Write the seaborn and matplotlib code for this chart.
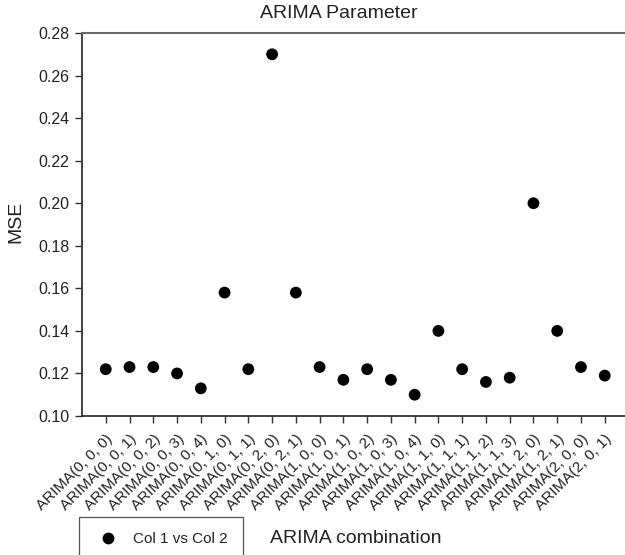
import matplotlib
matplotlib.use("Agg")
import matplotlib.pyplot as plt
import seaborn as sns
import pandas as pd

categories = ["ARIMA(0, 0, 0)", "ARIMA(0, 0, 1)", "ARIMA(0, 0, 2)", "ARIMA(0, 0, 3)",
              "ARIMA(0, 0, 4)", "ARIMA(0, 1, 0)", "ARIMA(0, 1, 1)", "ARIMA(0, 2, 0)",
              "ARIMA(0, 2, 1)", "ARIMA(1, 0, 0)", "ARIMA(1, 0, 1)", "ARIMA(1, 0, 2)",
              "ARIMA(1, 0, 3)", "ARIMA(1, 0, 4)", "ARIMA(1, 1, 0)", "ARIMA(1, 1, 1)",
              "ARIMA(1, 1, 2)", "ARIMA(1, 1, 3)", "ARIMA(1, 2, 0)", "ARIMA(1, 2, 1)",
              "ARIMA(2, 0, 0)", "ARIMA(2, 0, 1)"]
mse = [0.122, 0.123, 0.123, 0.120, 0.113, 0.158, 0.122, 0.270, 0.158, 0.123, 0.117,
       0.122, 0.117, 0.110, 0.140, 0.122, 0.116, 0.118, 0.200, 0.140, 0.123, 0.119]
yticks = [0.10, 0.12, 0.14, 0.16, 0.18, 0.20, 0.22, 0.24, 0.26, 0.28]

sns.set_style("white")
plt.rcParams["font.family"] = ["Liberation Sans", "DejaVu Sans"]

df = pd.DataFrame({"combo": categories, "MSE": mse, "series": "Col 1 vs Col 2"})

W, H = 625, 555
fig = plt.figure(figsize=(W / 100, H / 100), dpi=100)
ax_left, ax_right, ax_top, ax_bottom = 82, 628.5, 33, 416
ax = fig.add_axes([ax_left / W, 1 - ax_bottom / H, (ax_right - ax_left) / W, (ax_bottom - ax_top) / H])

sns.scatterplot(data=df, x="combo", y="MSE", hue="series", palette=["black"],
                s=72, edgecolor="black", linewidth=0, ax=ax, legend=True, zorder=3)

ax.set_xlim(-1, 22)
ax.set_ylim(0.10, 0.28)
ax.set_yticks(yticks)
ax.set_yticklabels([f"{v:.2f}" for v in yticks], fontsize=11.5, color="#222222")
ax.set_xticks(range(len(categories)))
ax.set_xticklabels(categories, rotation=45, ha="right", rotation_mode="anchor",
                   fontsize=11, color="#222222")
ax.tick_params(axis="both", direction="out", length=5, width=1, color="#333333",
               left=True, bottom=True, pad=4)
ax.tick_params(axis="x", pad=6)

for side in ["left", "bottom"]:
    ax.spines[side].set_color("#333333")
    ax.spines[side].set_linewidth(1.3)
ax.spines["top"].set_color("#6a6a6a")
ax.spines["top"].set_linewidth(1.5)
ax.spines["right"].set_visible(False)

fig.text(339 / W, 1 - 13 / H, "ARIMA Parameter", ha="center", va="center",
         fontsize=14, color="#222222")
ax.set_ylabel("MSE", fontsize=14, color="#222222")
ax.yaxis.set_label_coords(24 / W, 1 - 222 / H, transform=fig.transFigure)
ax.set_xlabel("ARIMA combination", fontsize=14, color="#222222")
ax.xaxis.set_label_coords(356 / W, 1 - 530 / H, transform=fig.transFigure)

handles, labels = ax.get_legend_handles_labels()
ax.get_legend().remove()
leg = fig.legend(handles, labels, loc="upper left",
                 bbox_to_anchor=(79 / W, 1 - 517 / H), bbox_transform=fig.transFigure,
                 fontsize=11, frameon=True, fancybox=False, framealpha=1,
                 edgecolor="#555555", borderpad=1.0, handlelength=1.8,
                 handletextpad=0.75, borderaxespad=0, markerscale=1.0)
leg.get_frame().set_linewidth(0.9)
for t in leg.get_texts():
    t.set_color("#222222")

fig.savefig("out.png", dpi=100)
